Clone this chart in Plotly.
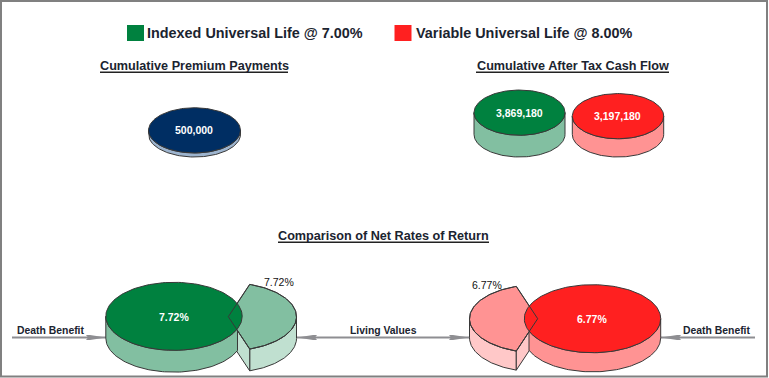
import math
import numpy as np
import plotly.graph_objects as go

# ---- data ----
series_names = ["Indexed Universal Life @ 7.00%", "Variable Universal Life @ 8.00%"]
premium_payments = [500000]
after_tax_cash_flow = [3869180, 3197180]
net_rates = [7.72, 6.77]
side_labels = ["Death Benefit", "Living Values", "Death Benefit"]
titles = ["Cumulative Premium Payments", "Cumulative After Tax Cash Flow", "Comparison of Net Rates of Return"]

# ---- style ----
W, H = 769, 378
GREEN = ("#00813F", "#82BFA1", "#C0E0D0")
RED = ("#FF2020", "#FF9393", "#FFC8C8")
NAVY = ("#002E63", "#9DB4CE")
EDGE = "#383838"
INK = "#1B2430"
FONT = "Liberation Sans"
BLOCK_FLOOR = 157.0

fig = go.Figure()


def poly(xs, ys, fill=None, edge=EDGE, width=1.0, closed=True):
    xs, ys = list(xs), list(ys)
    if closed:
        xs.append(xs[0]); ys.append(ys[0])
    fig.add_trace(go.Scatter(
        x=xs, y=ys, mode="lines", hoverinfo="skip", showlegend=False,
        fill="toself" if fill else None, fillcolor=fill,
        line=dict(color=edge or "rgba(0,0,0,0)", width=width if edge else 0),
    ))


def arc(cx, cy, rx, ry, t0, t1, sign=1, n=90):
    t = np.linspace(t0, t1, n)
    return cx + sign * rx * np.cos(t), cy + ry * np.sin(t)


def cylinder(cx, cy, rx, ry, depth, top, side):
    x, y = arc(cx, cy, rx, ry, 0, math.pi)
    poly(list(x) + list(x[::-1]), list(y) + list((y + depth)[::-1]), side)
    x, y = arc(cx, cy, rx, ry, 0, 2 * math.pi, n=160)
    poly(x, y, top)


def text(x, y, s, size, color=INK, bold=True):
    fig.add_annotation(x=x, y=y, text=f"<b>{s}</b>" if bold else s, showarrow=False,
                       xanchor="center", yanchor="middle",
                       font=dict(family=FONT, size=size, color=color))


def title(x0, x1, y, s):
    text((x0 + x1) / 2, y, s, 12.65)
    fig.add_shape(type="line", x0=x0, x1=x1, y0=y + 6.2, y1=y + 6.2, line=dict(color="#222222", width=1.5))


def block_depth(v):
    return 1.4 + v / 190000


def rate_depth(r):
    return r * 2.83


def exploded(cx, cy, wedge_x, wedge_y, rx, ry, depth, cols, sign):
    top, mid, light = cols
    half = math.acos(0.314)
    # wedge side wall
    x, y = arc(wedge_x, wedge_y, rx, ry, 0, half, sign)
    poly(list(x) + list(x[::-1]), list(y) + list((y + depth)[::-1]), light)
    # wedge cut face
    lx, ly = x[-1], y[-1]
    poly([wedge_x, lx, lx, wedge_x], [wedge_y, ly, ly + depth, wedge_y + depth], light)
    # main disc side, cut off where the wedge starts
    t_cut = math.acos(0.931)
    x, y = arc(cx, cy, rx, ry, t_cut, math.pi, sign)
    poly(list(x) + list(x[::-1]), list(y) + list((y + depth)[::-1]), mid)
    # wedge top
    x, y = arc(wedge_x, wedge_y, rx, ry, -half, half, sign)
    wx, wy = [wedge_x] + list(x), [wedge_y] + list(y)
    poly(wx, wy, mid)
    # main disc top
    x, y = arc(cx, cy, rx, ry, 0, 2 * math.pi, n=160)
    poly(x, y, top)
    # wedge outline shows through
    poly(wx, wy, None)


def arrow(x0, x1, y):
    """Grey rule from x0 to x1, tapered head ending at x1."""
    GREY = "#8E8E92"
    poly([x0, x1], [y, y], None, edge=GREY, width=2, closed=False)
    s = 1 if x1 > x0 else -1
    poly([x1 - s * 20, x1 - s * 16, x1, x1 - s * 16],
         [y - 2.5, y - 2.5, y, y + 2.5], GREY, edge=None)
    poly([x1 - s * 20, x1 - s * 16, x1 - s * 16], [y + 2.5, y + 2.5, y - 2.5], GREY, edge=None)


# ---- legend ----
fig.add_shape(type="rect", x0=127, x1=144, y0=25, y1=41, fillcolor=GREEN[0], line_width=0)
fig.add_shape(type="rect", x0=394.5, x1=411.5, y0=25, y1=41, fillcolor=RED[0], line_width=0)
text(255, 33, series_names[0], 14.4)
text(524, 33, series_names[1], 14.4)

# ---- titles ----
title(100, 288, 66, titles[0])
title(476, 669, 66, titles[1])
title(278, 489, 236, titles[2])

# ---- top blocks ----
d = block_depth(premium_payments[0])
cylinder(194.5, BLOCK_FLOOR - d - 22.6, 46, 22.6, d, *NAVY)
text(194, 130, f"{premium_payments[0]:,}", 10.5, "white")
for v, c, cx, rx in zip(after_tax_cash_flow, (GREEN, RED), (519.5, 618), (45.5, 45.7)):
    d = block_depth(v)
    cy = BLOCK_FLOOR - d - 22.6
    cylinder(cx, cy, rx, 22.6, d, c[0], c[1])
    text(cx - 0.5, cy, f"{v:,}", 10.5, "white")

# ---- arrows (behind discs) ----
arrow(12, 106, 337.5)
arrow(383, 297, 337.5)
arrow(383, 469, 337.5)
arrow(755, 661, 337.5)

# ---- exploded discs ----
exploded(174, 316.3, 228.3, 316.7, 68.2, 34, rate_depth(net_rates[0]), GREEN, 1)
exploded(592.5, 318.7, 537.7, 318.7, 68.2, 34, rate_depth(net_rates[1]), RED, -1)
text(174, 316.5, f"{net_rates[0]:.2f}%", 10.5, "white")
text(279, 282, f"{net_rates[0]:.2f}%", 10.5, "#111111", bold=False)
text(591.5, 318.5, f"{net_rates[1]:.2f}%", 10.5, "white")
text(486.5, 284.5, f"{net_rates[1]:.2f}%", 10.5, "#111111", bold=False)

text(50.5, 330, side_labels[0], 10.4)
text(383, 330, side_labels[1], 10.4)
text(716.5, 330, side_labels[2], 10.4)

# ---- frame ----
fig.add_shape(type="rect", x0=1, x1=767, y0=1, y1=376.5, line=dict(color="#808080", width=2), fillcolor="rgba(0,0,0,0)")

fig.update_layout(
    width=W, height=H, margin=dict(l=0, r=0, t=0, b=0),
    paper_bgcolor="white", plot_bgcolor="white", showlegend=False,
    font=dict(family=FONT),
    xaxis=dict(range=[0, W], visible=False, fixedrange=True),
    yaxis=dict(range=[H, 0], visible=False, fixedrange=True),
)
fig.write_html("out.html", post_script="document.body.style.margin='0';", config={"displayModeBar": False})
